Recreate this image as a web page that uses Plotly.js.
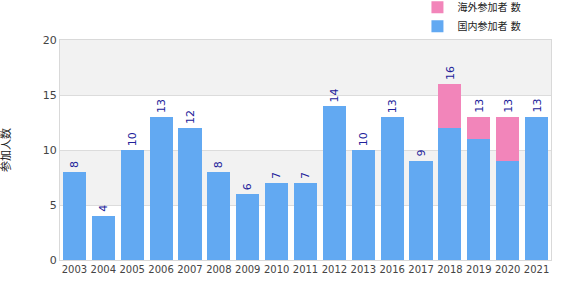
<!DOCTYPE html>
<html>
<head>
<meta charset="utf-8">
<script src="https://cdn.plot.ly/plotly-3.0.1.min.js"></script>
<style>html,body{margin:0;padding:0;background:#fff}#chart{width:561px;height:300px}</style>
</head>
<body>
<div id="chart"></div>
<script>
const years = ["2003","2004","2005","2006","2007","2008","2009","2010","2011","2012","2013","2016","2017","2018","2019","2020","2021"];
const blueValues = [8,4,10,13,12,8,6,7,7,14,10,13,9,12,11,9,13];
const pinkValues = [0,0,0,0,0,0,0,0,0,0,0,0,0,4,2,4,0];
const blueName = "国内参加者 数";
const pinkName = "海外参加者 数";
const yTitle = "参加人数";
const yTicks = [0,5,10,15,20];

const totals = years.map((y,i)=>blueValues[i]+pinkValues[i]);
const font = "DejaVu Sans, Noto Sans CJK JP, sans-serif";

const traces = [
  {type:"bar", x:years, y:blueValues, name:blueName, marker:{color:"#62a9f2"}, hoverinfo:"none"},
  {type:"bar", x:years, y:pinkValues, name:pinkName, marker:{color:"#f285ba"}, hoverinfo:"none"}
];

const annotations = years.map((y,i)=>({
  x:i, y:totals[i], xref:"x", yref:"y", text:String(totals[i]), showarrow:false,
  textangle:-90, yanchor:"bottom", yshift:2, font:{family:font, size:11, color:"#22229a"}
}));

const shapes = [[5,10],[15,20]].map(b=>({
  type:"rect", xref:"paper", yref:"y", x0:0, x1:1, y0:b[0], y1:b[1],
  fillcolor:"#f2f2f2", line:{width:0}, layer:"below"
}));

Plotly.newPlot("chart", traces, {
  width:561, height:300,
  margin:{l:60, r:10, t:40, b:40, autoexpand:false},
  barmode:"stack", bargap:0.2,
  paper_bgcolor:"#fff", plot_bgcolor:"rgba(0,0,0,0)",
  font:{family:font, size:11, color:"#444"},
  showlegend:true,
  legend:{x:0.728, y:1.215, xanchor:"left", yanchor:"top", traceorder:"reversed",
          font:{family:font, size:10, color:"#222"}, bgcolor:"rgba(0,0,0,0)", itemwidth:30},
  xaxis:{type:"category", range:[-0.5, years.length-0.5], tickangle:0, tickfont:{size:10, color:"#444"},
         showline:true, linecolor:"#d9d9d9", mirror:true, ticks:"", showgrid:false},
  yaxis:{range:[0,20], tickvals:yTicks, tickfont:{size:11, color:"#444"}, showline:true,
         linecolor:"#d9d9d9", mirror:true, gridcolor:"#dcdcdc", zeroline:false, ticks:"",
         title:{text:yTitle, font:{size:11, color:"#222"}, standoff:30}},
  shapes:shapes,
  annotations:annotations
}, {staticPlot:true});
</script>
</body>
</html>
